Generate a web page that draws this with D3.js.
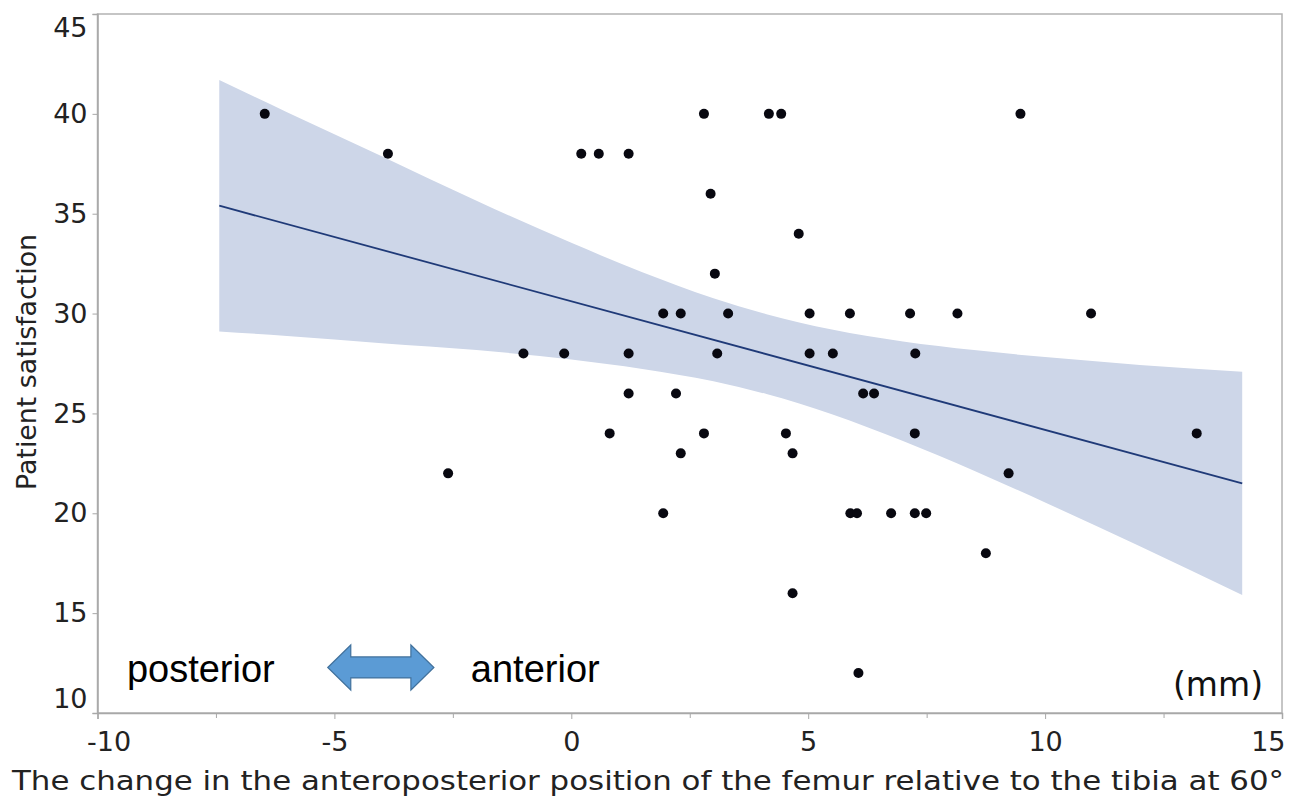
<!DOCTYPE html>
<html>
<head>
<meta charset="utf-8">
<script src="https://cdn.jsdelivr.net/npm/d3@7"></script>
<style>
  body { margin: 0; background: #fff; }
  svg { display: block; }
  .tick text { font-family: "DejaVu Sans", Verdana, sans-serif; fill: #222; }
</style>
</head>
<body>
<svg id="chart" width="1296" height="799"></svg>
<script>
// data points (x in mm, y = satisfaction score)
var ptX = [-6.47, 2.80, 4.17, 4.43, 9.48,
           -3.87, 0.21, 0.58, 1.21,
           2.94, 4.80, 3.03,
           1.94, 2.31, 3.31, 5.03, 5.88, 7.15, 8.15, 10.97,
           -1.01, -0.15, 1.21, 3.08, 5.03, 5.52, 7.26,
           1.21, 2.21, 6.16, 6.39,
           0.81, 2.80, 4.53, 7.25, 13.20,
           2.31, 4.67,
           -2.60, 9.23,
           1.94, 5.89, 6.03, 6.75, 7.25, 7.49,
           8.75, 4.67, 6.06];
var ptY = [40, 40, 40, 40, 40,
           38, 38, 38, 38,
           36, 34, 32,
           30, 30, 30, 30, 30, 30, 30, 30,
           28, 28, 28, 28, 28, 28, 28,
           26, 26, 26, 26,
           24, 24, 24, 24, 24,
           23, 23,
           22, 22,
           20, 20, 20, 20, 20, 20,
           18, 16, 12];

// fitted line end points and confidence band edges
var fitX = [-7.43, 14.16];
var fitY = [35.40, 21.50];
var bandX     = [-7.43, -6, -4, -2, 0, 1.5, 3, 4.12, 5.5, 7, 8.5, 10, 12, 14.16];
var bandUpper = [41.70, 40.08, 37.88, 35.65, 33.54, 32.07, 30.77, 29.97, 29.20, 28.60, 28.17, 27.82, 27.43, 27.09];
var bandLower = [29.10, 28.88, 28.52, 28.17, 27.70, 27.23, 26.61, 25.97, 24.96, 23.62, 22.13, 20.54, 18.35, 15.91];

var xTicks = [-10, -5, 0, 5, 10, 15];
var xMinor = [-7.5, -2.5, 2.5, 7.5, 12.5];
var yTicks = [10, 15, 20, 25, 30, 35, 40, 45];

var svg = d3.select("#chart"),
    margin = {top: 14, right: 14, bottom: 86, left: 97.5},
    width = +svg.attr("width") - margin.left - margin.right,
    height = +svg.attr("height") - margin.top - margin.bottom;

var g = svg.append("g")
    .attr("transform", "translate(" + margin.left + "," + margin.top + ")");

var x = d3.scaleLinear().domain([-10, 15]).range([0, width]);
var y = d3.scaleLinear().domain([10, 45]).range([height, 0]);

// frame
g.append("rect")
    .attr("width", width)
    .attr("height", height)
    .attr("fill", "none")
    .attr("stroke", "#b3b3b3")
    .attr("stroke-width", 1.5);

// confidence band
var band = bandX.map(function (d, i) {
    return {x: d, lo: bandLower[i], hi: bandUpper[i]};
});
g.append("path")
    .datum(band)
    .attr("fill", "#cdd6e8")
    .attr("d", d3.area()
        .curve(d3.curveMonotoneX)
        .x(function (d) { return x(d.x); })
        .y0(function (d) { return y(d.lo); })
        .y1(function (d) { return y(d.hi); }));

// regression line
var fit = fitX.map(function (d, i) { return {x: d, y: fitY[i]}; });
g.append("path")
    .datum(fit)
    .attr("fill", "none")
    .attr("stroke", "#1f3a78")
    .attr("stroke-width", 1.8)
    .attr("d", d3.line()
        .x(function (d) { return x(d.x); })
        .y(function (d) { return y(d.y); }));

// points
var pts = ptX.map(function (d, i) { return {x: d, y: ptY[i]}; });
g.append("g")
    .selectAll("circle")
    .data(pts)
    .enter().append("circle")
    .attr("cx", function (d) { return x(d.x); })
    .attr("cy", function (d) { return y(d.y); })
    .attr("r", 5)
    .attr("fill", "#080810");

// axes
var xAxis = g.append("g")
    .attr("transform", "translate(0," + height + ")")
    .call(d3.axisBottom(x).tickValues(xTicks).tickSize(6).tickPadding(13)
        .tickFormat(function (d) { return String(d); }));
xAxis.selectAll("text")
    .style("font-size", "27px")
    .attr("text-anchor", function (d, i) {
        return i === 0 ? "start" : (i === xTicks.length - 1 ? "end" : "middle");
    })
    .attr("dx", function (d, i) {
        return i === 0 ? -11 : (i === xTicks.length - 1 ? 3 : 0);
    });

g.append("g")
    .attr("transform", "translate(0," + height + ")")
    .call(d3.axisBottom(x).tickValues(xMinor).tickSize(5).tickFormat(""))
    .call(function (s) { s.select(".domain").remove(); });

var yAxis = g.append("g")
    .call(d3.axisLeft(y).tickValues(yTicks).tickSize(5).tickPadding(5));
yAxis.selectAll("text")
    .style("font-size", "27px")
    .attr("dy", function (d) {
        if (d === 45) return "0.85em";
        if (d === 10) return "-0.2em";
        return "0.32em";
    });

svg.selectAll(".domain").attr("stroke", "#a8a8a8").attr("stroke-width", 1.5);
svg.selectAll(".tick line").attr("stroke", "#a8a8a8");

// axis titles
svg.append("text")
    .attr("x", 12)
    .attr("y", 790)
    .attr("textLength", 1272)
    .attr("lengthAdjust", "spacingAndGlyphs")
    .style("font-family", "'DejaVu Sans', Verdana, sans-serif")
    .style("font-size", "26px")
    .attr("fill", "#222")
    .text("The change in the anteroposterior position of the femur relative to the tibia at 60°");

svg.append("text")
    .attr("transform", "translate(36," + 362 + ") rotate(-90)")
    .attr("text-anchor", "middle")
    .attr("textLength", 256)
    .attr("lengthAdjust", "spacingAndGlyphs")
    .style("font-family", "'DejaVu Sans', Verdana, sans-serif")
    .style("font-size", "26px")
    .attr("fill", "#222")
    .text("Patient satisfaction");

// annotations
g.append("text")
    .attr("x", x(-9.38))
    .attr("y", y(11.55))
    .style("font-family", "'Liberation Sans', Arial, sans-serif")
    .style("font-size", "38px")
    .text("posterior");

g.append("text")
    .attr("x", x(-2.12))
    .attr("y", y(11.55))
    .style("font-family", "'Liberation Sans', Arial, sans-serif")
    .style("font-size", "38px")
    .text("anterior");

g.append("text")
    .attr("x", x(14.6))
    .attr("y", y(10.85))
    .attr("text-anchor", "end")
    .style("font-family", "'DejaVu Sans', Verdana, sans-serif")
    .style("font-size", "33px")
    .attr("fill", "#111")
    .text("(mm)");

// double arrow
var ax0 = x(-5.14), ax1 = x(-2.9), ay = y(12.28),
    head = 23, hh = 22.5, sh = 10.5;
var arrow = d3.path();
arrow.moveTo(ax0, ay);
arrow.lineTo(ax0 + head, ay - hh);
arrow.lineTo(ax0 + head, ay - sh);
arrow.lineTo(ax1 - head, ay - sh);
arrow.lineTo(ax1 - head, ay - hh);
arrow.lineTo(ax1, ay);
arrow.lineTo(ax1 - head, ay + hh);
arrow.lineTo(ax1 - head, ay + sh);
arrow.lineTo(ax0 + head, ay + sh);
arrow.lineTo(ax0 + head, ay + hh);
arrow.closePath();
g.append("path")
    .attr("d", arrow.toString())
    .attr("fill", "#5b9bd5")
    .attr("stroke", "#41719c")
    .attr("stroke-width", 1.2);
</script>
</body>
</html>
